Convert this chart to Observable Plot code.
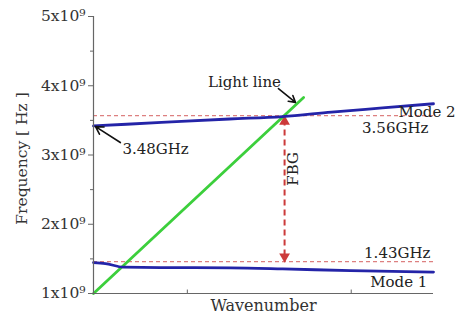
<!DOCTYPE html>
<html><head><meta charset="utf-8">
<script src="https://cdn.jsdelivr.net/npm/d3@7"></script>
<script src="https://cdn.jsdelivr.net/npm/@observablehq/plot@0.6"></script>
<style>body{margin:0;background:#fff} #chart svg{font-family:"DejaVu Serif",serif;background:#fff;overflow:visible}</style>
</head><body><div id="chart"></div>
<script>
// frequencies in units of 1e9 Hz, wavenumber normalized 0..1
const mode2X = [0, 0.2, 0.4, 0.556, 0.7, 0.85, 1.0];
const mode2Y = [3.42, 3.47, 3.52, 3.555, 3.62, 3.68, 3.74];
const mode1X = [0, 0.035, 0.088, 0.197, 0.403, 0.556, 0.756, 1.0];
const mode1Y = [1.447, 1.433, 1.38, 1.375, 1.37, 1.355, 1.33, 1.31];
const lightX = [0, 0.618];
const lightY = [1, 3.83];
const bandTop = 3.57, bandBottom = 1.46, fbgX = 0.562;
const yTicks = [1, 2, 3, 4, 5];
const yMinor = [1.5, 2.5, 3.5, 4.5];
const xTicks = [0.276, 0.758];
const labels = [
  {x: 0.444, y: 4.05, text: "Light line", anchor: "middle"},
  {x: 1.065, y: 3.62, text: "Mode 2", anchor: "end"},
  {x: 0.985, y: 3.39, text: "3.56GHz", anchor: "end"},
  {x: 0.991, y: 1.578, text: "1.43GHz", anchor: "end"},
  {x: 0.982, y: 1.16, text: "Mode 1", anchor: "end"},
  {x: 0.085, y: 3.09, text: "3.48GHz", anchor: "start"}
];
const arrows = [
  {x1: 0.544, y1: 3.96, x2: 0.594, y2: 3.76},
  {x1: 0.079, y1: 3.18, x2: 0.006, y2: 3.41}
];
const pts = (xs, ys) => xs.map((x, i) => ({x, y: ys[i]}));
const blue = "#2424a8", green = "#3ccf3c", red = "#cc3a3a";
const labelMarks = ["start", "middle", "end"].map(a =>
  Plot.text(labels.filter(d => d.anchor === a), {x: "x", y: "y", text: "text", textAnchor: a, fontSize: 15, fill: "#222"}));
const chart = Plot.plot({
  width: 460, height: 322,
  marginLeft: 93, marginRight: 27, marginTop: 16, marginBottom: 29,
  x: {domain: [0, 1], axis: null},
  y: {domain: [1, 5], axis: null},
  marks: [
    Plot.ruleY([bandTop, bandBottom], {stroke: "#dd8080", strokeWidth: 1.2, strokeDasharray: "4,3"}),
    Plot.ruleX([fbgX], {y1: bandBottom + 0.08, y2: bandTop - 0.08, stroke: red, strokeWidth: 2, strokeDasharray: "6,4"}),
    Plot.dot([{x: fbgX, y: bandTop}], {x: "x", y: "y", symbol: "triangle", fill: red, r: 4, dy: 6}),
    Plot.dot([{x: fbgX, y: bandBottom}], {x: "x", y: "y", symbol: "triangle", fill: red, r: 4, dy: -5, rotate: 180}),
    Plot.line(pts(lightX, lightY), {x: "x", y: "y", stroke: green, strokeWidth: 2.8}),
    Plot.line(pts(mode2X, mode2Y), {x: "x", y: "y", stroke: blue, strokeWidth: 2.8, curve: "monotone-x"}),
    Plot.line(pts(mode1X, mode1Y), {x: "x", y: "y", stroke: blue, strokeWidth: 2.8, curve: "monotone-x"}),
    Plot.ruleX([0], {stroke: "#666", strokeWidth: 1.2}),
    Plot.ruleY([1], {x1: -0.012, x2: 1, stroke: "#666", strokeWidth: 1.2}),
    Plot.ruleX(xTicks, {y1: 1, y2: 1.05, stroke: "#666"}),
    Plot.axisY(yTicks, {tickSize: 5, tickPadding: 3, fontSize: 15.5, stroke: "#666", fill: "#333", tickFormat: d => d + "x10⁹", label: null}),
    Plot.axisY(yMinor, {tickSize: 3, stroke: "#666", tickFormat: () => "", label: null}),
    Plot.text(["Frequency [ Hz ]"], {x: -0.209, y: 2.95, rotate: -90, textAnchor: "middle", fontSize: 15.5, fill: "#333"}),
    Plot.text(["Wavenumber"], {frameAnchor: "bottom", dy: 17, fontSize: 16, fill: "#333"}),
    ...labelMarks,
    Plot.text(["FBG"], {x: fbgX + 0.026, y: 2.8, rotate: -90, textAnchor: "middle", fontSize: 15, fill: "#222"}),
    Plot.arrow(arrows, {x1: "x1", y1: "y1", x2: "x2", y2: "y2", stroke: "#111", strokeWidth: 1.6, headLength: 8})
  ]
});
document.getElementById("chart").append(chart);
</script></body></html>
